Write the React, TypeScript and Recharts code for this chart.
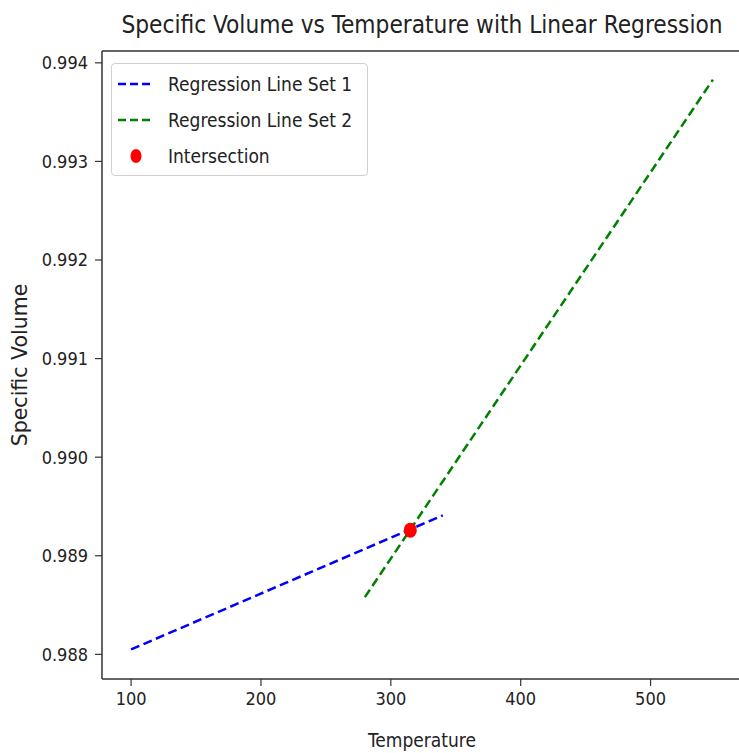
import React from 'react';
import { ComposedChart, Line, Scatter, XAxis, YAxis, Legend, ReferenceArea } from 'recharts';

const set1Temps = [100, 340];
const set1Volumes = [0.98805, 0.98941];
const set2Temps = [280, 548];
const set2Volumes = [0.98858, 0.99383];
const intersectionTemps = [315];
const intersectionVolumes = [0.98926];

const xTicks = [100, 200, 300, 400, 500];
const yTicks = [0.988, 0.989, 0.99, 0.991, 0.992, 0.993, 0.994];
const xDomain = [77.6, 570.4];
const yDomain = [0.98775, 0.99412];

const titleText = 'Specific Volume vs Temperature with Linear Regression';
const xLabel = 'Temperature';
const yLabel = 'Specific Volume';
const legendItems = [
  { name: 'Regression Line Set 1', color: '#0000ff', kind: 'line' },
  { name: 'Regression Line Set 2', color: '#008000', kind: 'line' },
  { name: 'Intersection', color: '#ff0000', kind: 'dot' },
];

const set1 = set1Temps.map((t, i) => ({ temp: t, vol: set1Volumes[i] }));
const set2 = set2Temps.map((t, i) => ({ temp: t, vol: set2Volumes[i] }));
const inter = intersectionTemps.map((t, i) => ({ temp: t, vol: intersectionVolumes[i] }));

const FONT = "'DejaVu Sans Condensed', 'DejaVu Sans', sans-serif";
const TXT = '#222';
const SPINE = '#333';

const LegendBox = () => (
  <div
    style={{
      width: 257,
      height: 113,
      border: '1px solid #d0d0d0',
      borderRadius: 4,
      background: 'rgba(255,255,255,0.8)',
      boxSizing: 'border-box',
      paddingTop: 2,
      fontFamily: FONT,
      fontSize: 19,
      color: TXT,
      textAlign: 'left',
    }}
  >
    {legendItems.map((it) => (
      <div key={it.name} style={{ display: 'flex', alignItems: 'center', height: 36 }}>
        <svg width={56} height={20} style={{ flex: 'none' }}>
          {it.kind === 'line' ? (
            <line x1={6} y1={10} x2={42} y2={10} stroke={it.color} strokeWidth={2.5} strokeDasharray="8 4" />
          ) : (
            <ellipse cx={24} cy={10} rx={5.5} ry={7} fill={it.color} />
          )}
        </svg>
        <span style={{ whiteSpace: 'nowrap' }}>{it.name}</span>
      </div>
    ))}
  </div>
);

export default function App() {
  return (
    <div style={{ position: 'absolute', left: 0, top: 0, width: 739, height: 753, overflow: 'hidden', background: '#fff' }}>
      <ComposedChart width={745} height={753} margin={{ top: 51, right: 3, bottom: 0, left: 10 }}>
        <text x={422} y={33} textAnchor="middle" fontFamily={FONT} fontSize={24.2} fill={TXT}>
          {titleText}
        </text>
        <XAxis
          dataKey="temp"
          type="number"
          domain={xDomain}
          ticks={xTicks}
          allowDataOverflow
          height={74}
          tickSize={7}
          tickMargin={6}
          axisLine={{ stroke: SPINE, strokeWidth: 1.5 }}
          tickLine={{ stroke: SPINE, strokeWidth: 1.2 }}
          tick={{ fill: TXT, fontSize: 18, fontFamily: FONT }}
          label={{ value: xLabel, position: 'insideBottom', offset: 6, fill: TXT, fontSize: 19, fontFamily: FONT }}
        />
        <YAxis
          dataKey="vol"
          type="number"
          domain={yDomain}
          ticks={yTicks}
          allowDataOverflow
          width={92}
          tickSize={7}
          tickMargin={7}
          tickFormatter={(v: number) => v.toFixed(3)}
          axisLine={{ stroke: SPINE, strokeWidth: 1.5 }}
          tickLine={{ stroke: SPINE, strokeWidth: 1.2 }}
          tick={{ fill: TXT, fontSize: 18, fontFamily: FONT }}
          label={{
            content: (props: any) => {
              const vb = props.viewBox || { x: 10, y: 51, height: 628 };
              const cy = vb.y + vb.height / 2;
              return (
                <text
                  x={20}
                  y={cy}
                  transform={`rotate(-90, 20, ${cy})`}
                  textAnchor="middle"
                  dominantBaseline="central"
                  fontFamily="'DejaVu Sans', sans-serif"
                  fontSize={20.5}
                  fill={TXT}
                >
                  {yLabel}
                </text>
              );
            },
          }}
        />
        <ReferenceArea
          x1={xDomain[0]}
          x2={xDomain[1]}
          y1={yDomain[0]}
          y2={yDomain[1]}
          fill="none"
          fillOpacity={0}
          stroke={SPINE}
          strokeWidth={1.5}
          strokeDasharray="640 4000"
          ifOverflow="visible"
        />
        <Line
          data={set1}
          dataKey="vol"
          name="Regression Line Set 1"
          stroke="#0000ff"
          strokeWidth={2.5}
          strokeDasharray="9 4.5"
          dot={false}
          activeDot={false}
          isAnimationActive={false}
        />
        <Line
          data={set2}
          dataKey="vol"
          name="Regression Line Set 2"
          stroke="#008000"
          strokeWidth={2.5}
          strokeDasharray="9 4.5"
          dot={false}
          activeDot={false}
          isAnimationActive={false}
        />
        <Scatter
          data={inter}
          dataKey="vol"
          name="Intersection"
          fill="#ff0000"
          isAnimationActive={false}
          shape={(p: any) => <ellipse cx={p.cx} cy={p.cy} rx={6.5} ry={7.5} fill="#ff0000" />}
        />
        <Legend
          layout="vertical"
          align="center"
          verticalAlign="middle"
          content={() => <LegendBox />}
          wrapperStyle={{ left: 111, top: 63, width: 'auto', height: 'auto' }}
        />
      </ComposedChart>
    </div>
  );
}
